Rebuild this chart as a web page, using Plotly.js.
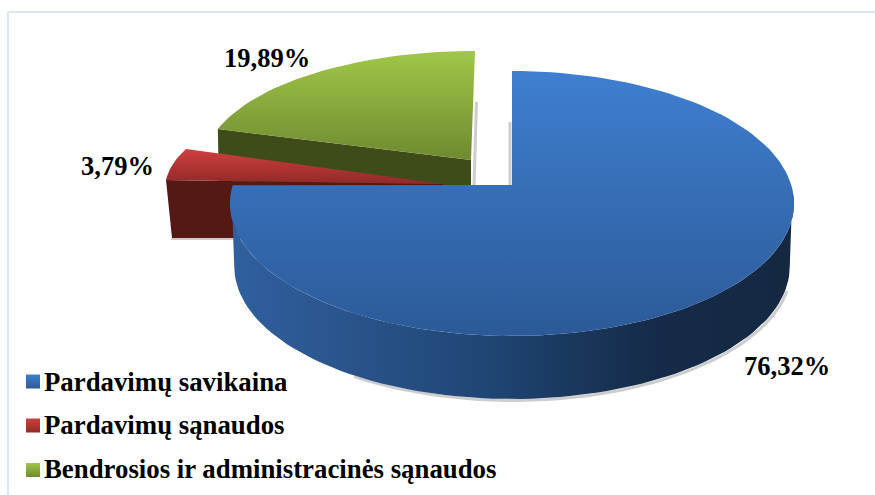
<!DOCTYPE html>
<html><head><meta charset="utf-8">
<script src="https://cdn.plot.ly/plotly-3.0.1.min.js"></script>
<style>html,body{margin:0;padding:0;background:#fff}#c{width:875px;height:495px}</style>
</head><body><div id="c"></div>
<script>
const categories = ["Pardavimų savikaina", "Pardavimų sąnaudos", "Bendrosios ir administracinės sąnaudos"];
const shares = [76.32, 3.79, 19.89];
const topLight = ["#3f7fd0", "#d13f3f", "#a0c748"];
const topDark = ["#2c5a98", "#8f2a28", "#6f8a30"];

// Projection of each slice's disc on the page (px)
const geo = [
  {cx:512, cy:203.5, rx:282, ry:132.5, ax:512, ay:185, depth:63, shiftEnd:3.2},
  {cx:443, cy:189, rx:278, ry:105, ax:443, ay:184, depth:54, shiftStart:0.1, shiftEnd:4},
  {cx:475, cy:165, rx:271, ry:114, ax:471, ay:160, depth:26}
];
const arc = (g, a0, a1, dy=0, k=1) => {
  const xs=[], ys=[], n=Math.max(8,Math.ceil(Math.abs(a1-a0)/2));
  for(let i=0;i<=n;i++){
    const t=(a0+(a1-a0)*i/n)*Math.PI/180;
    xs.push(g.cx+g.rx*k*Math.sin(t)); ys.push(g.cy+dy-g.ry*Math.cos(t));
  }
  return [xs,ys];
};
// Angles from the values, clockwise from 12 o'clock
let acc=0;
const angles = shares.map(v=>{const s=acc; acc+=v*3.6; return [s,acc];});

const grad=(type,stops)=>({type, colorscale:stops});
const poly=(xs,ys,fillgradient)=>({type:"scatter",mode:"lines",x:xs,y:ys,fill:"toself",line:{width:0},fillgradient,showlegend:false,hoverinfo:"skip"});
const shadow=(xs,ys,w=3)=>({type:"scatter",mode:"lines",x:xs,y:ys,line:{color:"rgba(130,130,130,0.4)",width:w},showlegend:false,hoverinfo:"skip"});
const topFace=(i)=>{
  const g=geo[i],[a0,a1]=angles[i];
  const [xs,ys]=arc(g,a0+(g.shiftStart||0),a1+(g.shiftEnd||0));
  return poly([g.ax,...xs,g.ax],[g.ay,...ys,g.ay],grad("vertical",[[0,topDark[i]],[1,topLight[i]]]));
};

const traces=[];
// green
{
  const g=geo[2],[a0]=angles[2];
  const [xs,ys]=arc(g,a0,a0);
  traces.push(shadow([476.5,474],[102,186],3));
  traces.push(poly([xs[0],g.ax,g.ax,xs[0]+1],[ys[0],g.ay,g.ay+g.depth,g.ay+g.depth],grad("horizontal",[[0,"#3d4c19"],[1,"#3d4c19"]])));
  traces.push(topFace(2));
}
// red
{
  const g=geo[1],[a0]=angles[1];
  const [xs,ys]=arc(g,a0+g.shiftStart,a0+g.shiftStart);
  traces.push(shadow([171,236],[239,239],2));
  traces.push(poly([xs[0],g.ax,g.ax,xs[0]+6],[ys[0],g.ay,g.ay+g.depth,g.ay+g.depth],grad("horizontal",[[0,"#541815"],[1,"#541815"]])));
  traces.push(topFace(1));
}
// blue
{
  const g=geo[0];
  const [bx,by]=arc(g,100,215,g.depth,0.985);
  traces.push(shadow([510,510],[122,186],3));
  traces.push(shadow(bx.map(v=>v+1.5),by.map(v=>v+1.5),3));
  const [ax,ay]=arc(g,90,270,g.depth,0.985);
  const [tx,ty]=arc(g,84,276);
  traces.push(poly([...tx,...ax.slice().reverse()],[...ty,...ay.slice().reverse()],
    grad("horizontal",[[0,"#30609f"],[0.2,"#2a548c"],[0.45,"#1f4674"],[0.75,"#152b49"],[1,"#142840"]])));
  traces.push(topFace(0));
}
// legend rows: swatch plus name
const swatchX=33, swatchY=[381.5,425.5,470], nameX=44, nameY=[384,427,471];
categories.forEach((name,i)=>{
  traces.push({type:"scatter",mode:"markers",x:[swatchX],y:[swatchY[i]],name,
    marker:{symbol:"square",size:14,color:topLight[i],gradient:{type:"vertical",color:topDark[i]},line:{width:0}},showlegend:false,hoverinfo:"skip"});
  traces.push({type:"scatter",mode:"text",x:[nameX],y:[nameY[i]],name,text:[name],
    textposition:"middle right",textfont:{family:"Liberation Serif, serif",size:26.8,weight:"bold",color:"#000"},cliponaxis:false,showlegend:false,hoverinfo:"skip"});
});

const labelPos=[[787,366],[117,166],[267,58]];
const fmt=v=>v.toFixed(2).replace(".",",")+"%";
const layout={
  width:875,height:495,margin:{l:0,r:0,t:0,b:0},paper_bgcolor:"#fff",plot_bgcolor:"#fff",showlegend:false,
  xaxis:{range:[0,875],visible:false,fixedrange:true},
  yaxis:{range:[495,0],visible:false,fixedrange:true},
  font:{family:"Liberation Serif, serif",color:"#000"},
  shapes:[
    {type:"line",xref:"x",yref:"y",x0:8,x1:8,y0:12,y1:495,line:{color:"#dbe7f6",width:2}},
    {type:"line",xref:"x",yref:"y",x0:8,x1:875,y0:12,y1:12,line:{color:"#dbe7f6",width:2}}
  ],
  annotations:shares.map((v,i)=>({xref:"x",yref:"y",x:labelPos[i][0],y:labelPos[i][1],text:"<b>"+fmt(v)+"</b>",showarrow:false,
    font:{family:"Liberation Serif, serif",size:26.5,color:"#000"}}))
};
Plotly.newPlot("c",traces,layout,{displayModeBar:false,staticPlot:true});
</script></body></html>
